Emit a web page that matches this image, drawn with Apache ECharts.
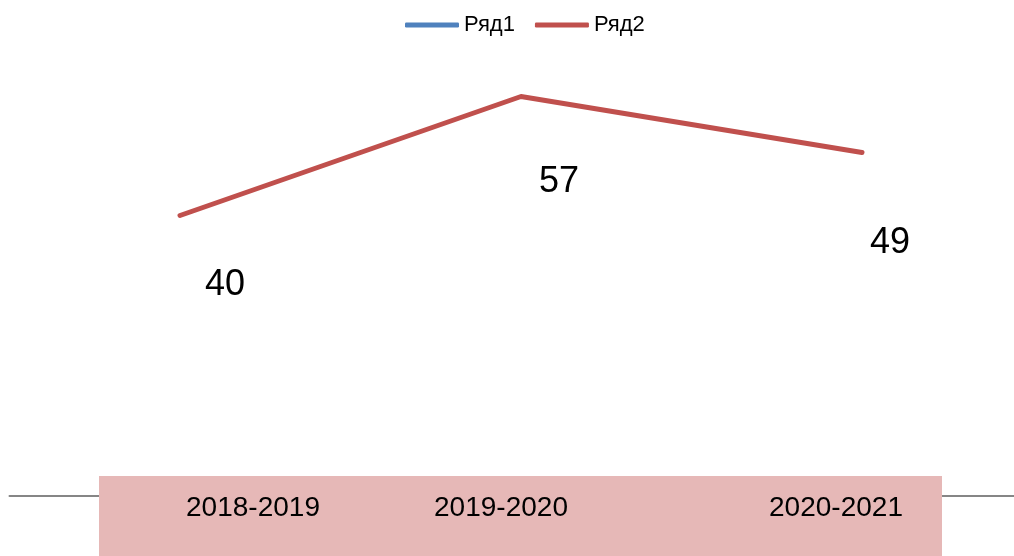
<!DOCTYPE html>
<html>
<head>
<meta charset="utf-8">
<script src="https://cdn.jsdelivr.net/npm/echarts@6/dist/echarts.min.js"></script>
<style>
  html, body { margin: 0; padding: 0; background: #fff; }
  #chart { width: 1014px; height: 556px; }
</style>
</head>
<body>
<div id="chart"></div>
<script>
// данные диаграммы
var categories = ['2018-2019', '2019-2020', '2020-2021'];
var series1Name = 'Ряд1';
var series1Values = [null, null, null];
var series2Name = 'Ряд2';
var series2Values = [40, 57, 49];

// сдвиг подписей значений относительно точек
var labelShift = [[45, 70], [38, 86], [28, 91]];
// центры подписей категорий внутри розовой плашки
var catLabelX = [253, 501, 836];

var font = '"Liberation Sans", Arial, sans-serif';
var blue = '#4f81bd', red = '#c0504d';

var chart = echarts.init(document.getElementById('chart'));

var option = {
    animation: false,
    legend: {
        left: 400,
        top: 9,
        icon: 'roundRect',
        itemWidth: 54,
        itemHeight: 5,
        itemGap: 20,
        textStyle: { fontFamily: font, fontSize: 22, color: '#000' },
        data: [
            { name: series1Name, itemStyle: { color: blue } },
            { name: series2Name, itemStyle: { color: red } }
        ]
    },
    grid: { left: 9.5, width: 1023, top: 75.5, bottom: 60.5, outerBoundsMode: 'none', containLabel: false },
    xAxis: {
        type: 'category',
        data: categories,
        boundaryGap: true,
        offset: 1.5,
        axisLine: { lineStyle: { color: '#868686', width: 2 } },
        axisTick: { show: false },
        axisLabel: { show: false }
    },
    yAxis: {
        type: 'value',
        min: 0,
        max: 60,
        show: false,
        splitLine: { show: false }
    },
    series: [
        {
            name: series1Name,
            type: 'line',
            data: series1Values,
            color: blue,
            symbol: 'none',
            lineStyle: { width: 5, color: blue }
        },
        {
            name: series2Name,
            type: 'line',
            color: red,
            symbol: 'circle',
            symbolSize: 1,
            itemStyle: { color: 'rgba(0,0,0,0)' },
            lineStyle: { width: 5, color: red, cap: 'round', join: 'round' },
            data: series2Values.map(function (v, i) {
                return {
                    value: v,
                    label: {
                        show: true,
                        position: 'inside',
                        offset: labelShift[i],
                        fontFamily: font,
                        fontSize: 36,
                        color: '#000'
                    }
                };
            })
        }
    ],
    graphic: [{
        type: 'rect',
        z: 100,
        shape: { x: 99, y: 476, width: 843, height: 80 },
        style: { fill: '#e6b8b7' }
    }].concat(categories.map(function (c, i) {
        return {
            type: 'text',
            z: 101,
            x: catLabelX[i],
            y: 508,
            style: {
                text: c,
                fontFamily: font,
                fontSize: 28,
                fill: '#000',
                align: 'center',
                verticalAlign: 'middle'
            }
        };
    }))
};

chart.setOption(option);
</script>
</body>
</html>
